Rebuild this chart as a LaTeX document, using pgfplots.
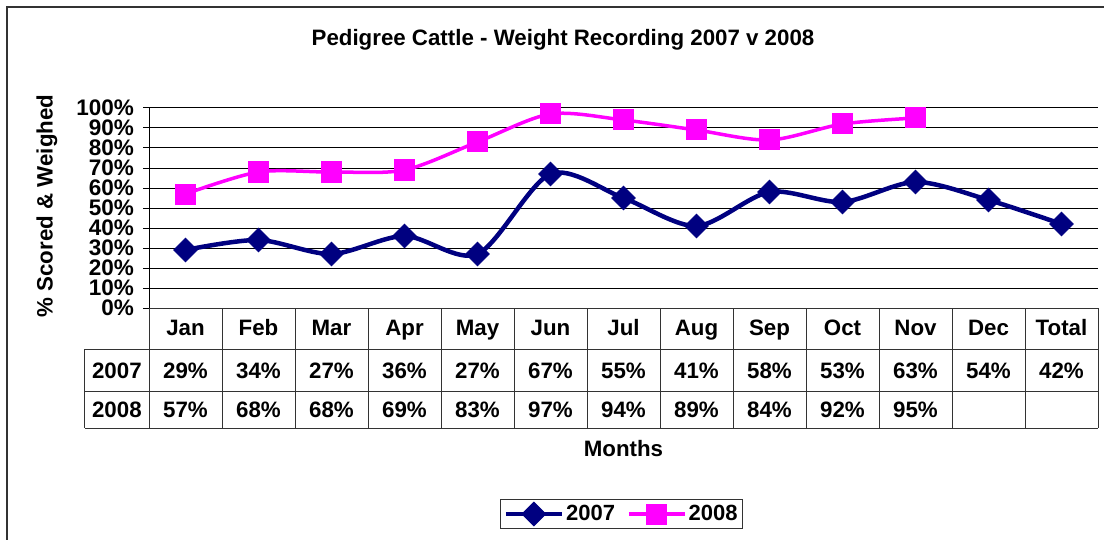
\documentclass[border=0pt]{standalone}
\usepackage{pgfplots}
\pgfplotsset{compat=1.18}
\usepackage{pgfplotstable}
\usepackage{fontspec}
\setmainfont{Liberation Sans}
\definecolor{navy}{RGB}{0,0,128}
\definecolor{mag}{RGB}{255,0,255}

\pgfplotstableread{
x a
0 29
1 34
2 27
3 36
4 27
5 67
6 55
7 41
8 58
9 53
10 63
11 54
12 42
}\tablea
\pgfplotstableread{
x b
0 57
1 68
2 68
3 69
4 83
5 97
6 94
7 89
8 84
9 92
10 95
}\tableb

\begin{document}
\begin{tikzpicture}[x=1pt,y=1pt]
\path[use as bounding box] (0,0) rectangle (1104,-540);
\draw[black!80, line width=1.2pt] (7,-560) -- (7,-7) -- (1120,-7);
\node[font=\fontsize{22.3}{24}\selectfont\bfseries] at (563,-40) {Pedigree Cattle - Weight Recording 2007 v 2008};
\begin{axis}[
  at={(149pt,-308pt)}, anchor=south west,
  scale only axis, width=949pt, height=200pt,
  xmin=-0.5, xmax=12.5, ymin=0, ymax=100,
  clip=false,
  axis line style={draw=none},
  xtick=\empty,
  ytick={0,10,...,100},
  ytick pos=left,
  tick align=outside,
  major tick length=6pt,
  ytick style={black, line width=1pt},
  ymajorgrids,
  major grid style={black, line width=1pt},
  /pgf/number format/assume math mode=true,
  yticklabel={\pgfmathprintnumber{\tick}\%},
  yticklabel style={font=\fontsize{22.5}{22}\selectfont\bfseries, inner xsep=2pt, inner ysep=0pt, text depth=0pt, xshift=-7pt},
  legend style={at={(axis description cs:0.498,-1.03)}, anchor=center,
    legend columns=2, draw=black!80, line width=1pt,
    font=\fontsize{22}{24}\selectfont\bfseries,
    inner sep=3pt,
    /tikz/every even column/.append style={column sep=10pt}},
  legend image code/.code={\draw[#1, mark repeat=2, mark phase=2] plot coordinates {(0pt,0pt) (28pt,0pt) (56pt,0pt)};},
]
% left axis line
\draw[black, line width=1pt] (axis cs:-0.5,0) -- (axis cs:-0.5,100);
% data table grid
\draw[black!80, line width=1pt]
  (axis cs:-0.5,0) -- (axis cs:12.5,0)
  (axis cs:-1.377,-20.5) -- (axis cs:12.5,-20.5)
  (axis cs:-1.377,-41.5) -- (axis cs:12.5,-41.5)
  (axis cs:-1.377,-60) -- (axis cs:12.5,-60)
  (axis cs:-1.377,-20.5) -- (axis cs:-1.377,-60);
\pgfplotsinvokeforeach{0,...,13}{
  \draw[black!80, line width=1pt] (axis cs:#1-0.5,0) -- (axis cs:#1-0.5,-60);
}
% header row
\foreach \i/\m in {0/Jan,1/Feb,2/Mar,3/Apr,4/May,5/Jun,6/Jul,7/Aug,8/Sep,9/Oct,10/Nov,11/Dec,12/Total}{
  \edef\tmp{\noexpand\node[anchor=base, font=\noexpand\fontsize{22.3}{24}\noexpand\selectfont\noexpand\bfseries] at (axis cs:\i,-13.5) {\m};}\tmp
}
\node[anchor=base, font=\fontsize{22.3}{24}\selectfont\bfseries] at (axis cs:-0.94,-35) {2007};
\node[anchor=base, font=\fontsize{22.3}{24}\selectfont\bfseries] at (axis cs:-0.94,-54.5) {2008};
\addplot[draw=none, forget plot, point meta=explicit,
  nodes near coords={\pgfmathprintnumber{\pgfplotspointmeta}\%},
  nodes near coords align={anchor=base},
  every node near coord/.append style={font=\fontsize{22.3}{24}\selectfont\bfseries}]
  table[x=x, y expr=-35, meta=a] {\tablea};
\addplot[draw=none, forget plot, point meta=explicit,
  nodes near coords={\pgfmathprintnumber{\pgfplotspointmeta}\%},
  nodes near coords align={anchor=base},
  every node near coord/.append style={font=\fontsize{22.3}{24}\selectfont\bfseries}]
  table[x=x, y expr=-54.5, meta=b] {\tableb};
\node[font=\fontsize{22.3}{24}\selectfont\bfseries] at (axis cs:6,-70.5) {Months};
\node[font=\fontsize{22.3}{24}\selectfont\bfseries, rotate=90] at (axis cs:-1.9,51) {\% Scored \& Weighed};
% series
\addplot[navy, line width=4.5pt, smooth, tension=0.5, mark=square*, mark size=8.3pt,
  mark options={rotate=45, line width=1pt, fill=navy, draw=navy}]
  table[x=x, y=a] {\tablea};
\addlegendentry{2007}
\addplot[mag, line width=3.5pt, smooth, tension=0.5, mark=square*, mark size=10pt,
  mark options={line width=1pt, fill=mag, draw=mag}]
  table[x=x, y=b] {\tableb};
\addlegendentry{2008}
\end{axis}
\end{tikzpicture}
\end{document}
